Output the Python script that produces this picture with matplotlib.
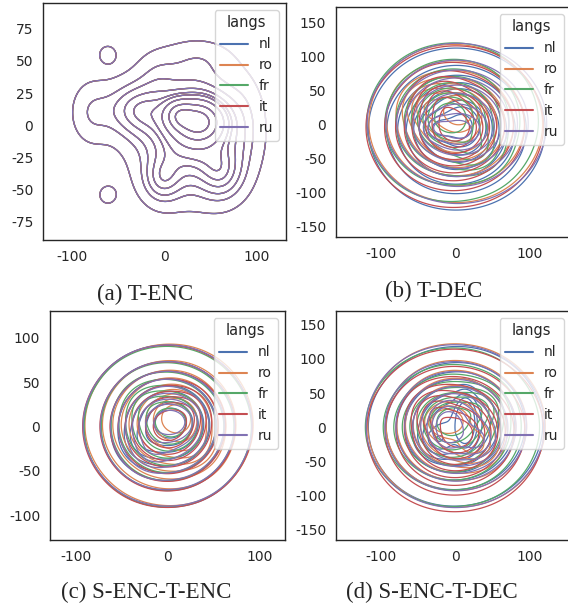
import numpy as np
import matplotlib.pyplot as plt
import seaborn as sns
from matplotlib.lines import Line2D

sns.set_style('white')
plt.rcParams['font.family'] = ['DejaVu Sans']
plt.rcParams['axes.unicode_minus'] = False

langs = ['nl', 'ro', 'fr', 'it', 'ru']
colors = sns.color_palette('deep', 5)

# (a) T-ENC: one shared mixture for all languages (x, y, sx, sy, weight)
a_cx = [38, 16, 30, -2, 62, -30, -78, 38, 85, -8, -61, -61]
a_cy = [3, 8, -5, -42, -38, 12, 10, 52, 0, 40, 55, -54]
a_sx = [16, 10, 35, 14, 16, 22, 15, 24, 14, 15, 8, 8]
a_sy = [10, 7, 28, 12, 14, 14, 16, 10, 25, 12, 6, 6]
a_w = [0.6, 0.15, 2.0, 0.15, 0.2, 0.34, 0.12, 0.07, 0.10, 0.05, 0.016, 0.016]

# ring of blobs that makes the flat-topped main mass in (b)-(d)
ring_deg = [0, 60, 120, 180, 240, 300]

# (b) T-DEC
b_mx = [3, 0, -3, 0, 2]
b_my = [-4, 0, 2, -2, 1]
b_r = [42, 41, 41, 42, 42]
b_s = [41, 40, 40, 41, 41]
b_ring = [[1.0, 0.9, 1.0, 1.1, 1.4, 1.2],
          [1.1, 1.0, 1.2, 1.0, 0.9, 1.0],
          [0.9, 1.2, 1.1, 1.0, 1.1, 0.9],
          [1.0, 1.0, 0.9, 1.1, 1.2, 1.0],
          [1.2, 1.0, 1.0, 1.2, 0.9, 1.0]]
b_b1x = [10, 5, -8, 0, 5]
b_b1y = [0, 19, 12, -5, -8]
b_b1sx = [20, 12, 22, 24, 18]
b_b1sy = [25, 12, 22, 24, 14]
b_b1w = [0.12, 0.08, 0.10, 0.10, 0.12]
b_b2x = [-25, -40, 30, -20, -24]
b_b2y = [-5, 30, -40, 40, -5]
b_b2s = [12, 20, 20, 20, 10]
b_b2w = [0.03, 0.05, 0.05, 0.05, 0.03]

# (c) S-ENC-T-ENC
c_mx = [0, 1, 0, -1, 0]
c_my = [0, 1, -1, 0, 1]
c_r = [33, 33, 32, 33, 33]
c_s = [31, 31, 31, 31, 31]
c_ring = [[1.0, 1.0, 1.1, 1.0, 1.0, 1.0],
          [1.0, 1.1, 1.0, 1.0, 0.9, 1.0],
          [1.0, 1.0, 1.1, 1.0, 1.0, 0.9],
          [1.1, 1.0, 1.0, 1.0, 1.0, 1.0],
          [1.0, 1.0, 1.0, 1.1, 1.0, 1.0]]
c_b1x = [5, 10, 5, 0, 2]
c_b1y = [5, 10, 5, 0, 5]
c_b1sx = [16, 14, 15, 18, 14]
c_b1sy = [16, 14, 15, 18, 11]
c_b1w = [0.08, 0.10, 0.08, 0.06, 0.10]
c_b2x = [-30, 30, -25, 25, -20]
c_b2y = [-20, -25, 25, 20, -30]
c_b2s = [15, 15, 15, 15, 15]
c_b2w = [0.02, 0.02, 0.02, 0.02, 0.02]

# (d) S-ENC-T-DEC
d_mx = [0, 2, -2, 0, -2]
d_my = [0, 2, 0, -3, 2]
d_r = [41, 42, 41, 42, 42]
d_s = [40, 41, 40, 41, 41]
d_ring = [[1.0, 1.2, 1.0, 1.0, 1.0, 0.9],
          [1.0, 1.0, 1.2, 1.0, 1.1, 1.0],
          [0.9, 1.0, 1.0, 1.2, 1.0, 1.0],
          [1.0, 0.9, 1.0, 1.0, 1.2, 1.1],
          [1.2, 1.0, 1.0, 0.9, 1.0, 1.1]]
d_b1x = [14, -12, -5, 5, -10]
d_b1y = [8, 9, 10, -10, 0]
d_b1sx = [8, 12, 20, 22, 13]
d_b1sy = [22, 10, 20, 22, 18]
d_b1w = [0.06, 0.07, 0.08, 0.10, 0.08]
d_b2x = [-25, 30, 35, -30, 30]
d_b2y = [-20, -30, 30, 25, -20]
d_b2s = [15, 18, 18, 18, 15]
d_b2w = [0.03, 0.04, 0.04, 0.04, 0.03]

captions = ['(a) T-ENC', '(b) T-DEC', '(c) S-ENC-T-ENC', '(d) S-ENC-T-DEC']


def mixture(X, Y, cx, cy, sx, sy, w):
    z = np.zeros_like(X)
    for x0, y0, s1, s2, wt in zip(cx, cy, sx, sy, w):
        z += wt / (s1 * s2) * np.exp(-0.5 * (((X - x0) / s1) ** 2 + ((Y - y0) / s2) ** 2))
    return z


def lang_density(X, Y, i, p):
    mx, my, r, s, ring, b1x, b1y, b1sx, b1sy, b1w, b2x, b2y, b2s, b2w = p
    t = np.deg2rad(ring_deg)
    rw = np.array(ring[i]) / np.sum(ring[i])
    cx = list(mx[i] + r[i] * np.cos(t)) + [b1x[i], b2x[i]]
    cy = list(my[i] + r[i] * np.sin(t)) + [b1y[i], b2y[i]]
    sx = [s[i]] * len(t) + [b1sx[i], b2s[i]]
    sy = [s[i]] * len(t) + [b1sy[i], b2s[i]]
    w = list(rw) + [b1w[i], b2w[i]]
    return mixture(X, Y, cx, cy, sx, sy, w)


def quantile_levels(z):
    # same idea as seaborn: iso-proportion levels from 0.05 to 1
    flat = np.sort(z.ravel())
    cum = np.cumsum(flat)
    cum /= cum[-1]
    qs = np.linspace(0.05, 1, 10)[:-1]
    return [flat[np.searchsorted(cum, q)] for q in qs]


params = {
    1: (b_mx, b_my, b_r, b_s, b_ring, b_b1x, b_b1y, b_b1sx, b_b1sy, b_b1w, b_b2x, b_b2y, b_b2s, b_b2w),
    2: (c_mx, c_my, c_r, c_s, c_ring, c_b1x, c_b1y, c_b1sx, c_b1sy, c_b1w, c_b2x, c_b2y, c_b2s, c_b2w),
    3: (d_mx, d_my, d_r, d_s, d_ring, d_b1x, d_b1y, d_b1sx, d_b1sy, d_b1w, d_b2x, d_b2y, d_b2s, d_b2w),
}

g = np.linspace(-260, 260, 420)
X, Y = np.meshgrid(g, g)

fig = plt.figure(figsize=(5.68, 6.07), dpi=100)
W, H = 568, 607

# axes boxes in pixels: left, top, right, bottom
boxes = [(43, 3, 286, 240), (336, 7, 571, 237), (50, 311, 285, 540), (336, 311, 571, 540)]
lims = [((-131, 132), (-89, 95)), ((-160, 155), (-165, 172)),
        ((-128, 127), (-128, 130)), ((-160, 155), (-165, 170))]
yticks = [[-75, -50, -25, 0, 25, 50, 75], [-150, -100, -50, 0, 50, 100, 150],
          [-100, -50, 0, 50, 100], [-150, -100, -50, 0, 50, 100, 150]]
cap_pos = [(145, 294), (434, 291), (146, 592), (432, 592)]

axes = []
for k, (l, t, r, b) in enumerate(boxes):
    ax = fig.add_axes([l / W, (H - b) / H, (r - l) / W, (b - t) / H])
    axes.append(ax)

for k, ax in enumerate(axes):
    for i, lang in enumerate(langs):
        if k == 0:
            z = mixture(X, Y, a_cx, a_cy, a_sx, a_sy, a_w)
        else:
            z = lang_density(X, Y, i, params[k])
        ax.contour(X, Y, z, levels=quantile_levels(z), colors=[colors[i]], linewidths=0.9)

    ax.set_xlim(lims[k][0])
    ax.set_ylim(lims[k][1])
    ax.set_xticks([-100, 0, 100])
    ax.set_yticks(yticks[k])
    ax.tick_params(labelsize=10, colors='#262626')
    for s in ax.spines.values():
        s.set_color('#262626')
        s.set_linewidth(1.0)
    handles = [Line2D([0], [0], color=c, lw=1.5) for c in colors]
    ax.legend(handles, langs, title='langs', loc='upper right', fontsize=10,
              title_fontsize=10.5)
    cx, cy = cap_pos[k]
    fig.text(cx / W, 1 - cy / H, captions[k], family='Liberation Serif', size=16.5,
             ha='center', va='center')

fig.savefig('out.png', dpi=100)
